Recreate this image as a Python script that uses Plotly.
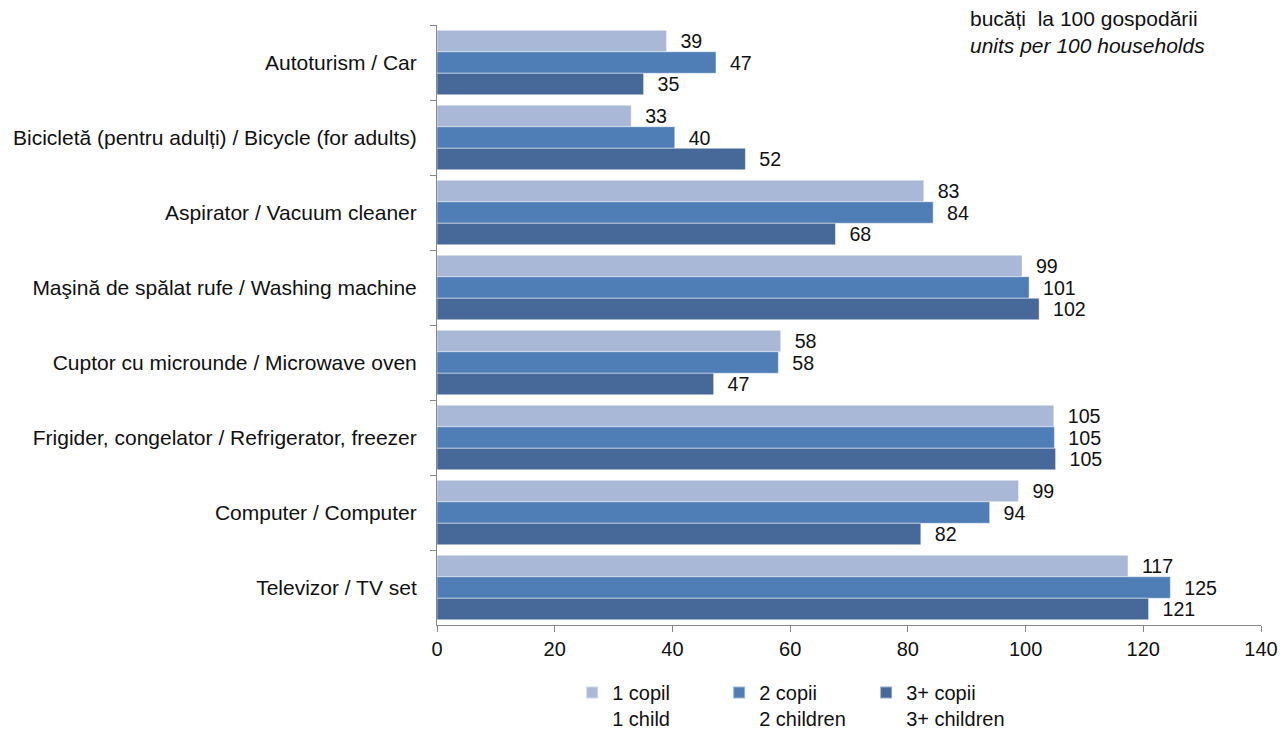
import plotly.graph_objects as go

categories = [
    "Autoturism / Car",
    "Bicicletă (pentru adulți) / Bicycle (for adults)",
    "Aspirator / Vacuum cleaner",
    "Maşină de spălat rufe / Washing machine",
    "Cuptor cu microunde / Microwave oven",
    "Frigider, congelator / Refrigerator, freezer",
    "Computer / Computer",
    "Televizor / TV set",
]
one_child = [39.0, 33.0, 82.7, 99.4, 58.4, 104.8, 98.8, 117.4]
two_children = [47.4, 40.4, 84.3, 100.6, 58.0, 104.9, 93.9, 124.6]
three_children = [35.1, 52.4, 67.7, 102.3, 47.0, 105.1, 82.2, 120.9]

series_names = ["1 copil<br>1 child", "2 copii<br>2 children", "3+ copii<br>3+ children"]
series_values = [one_child, two_children, three_children]
colors = ["#A9B8D6", "#4F7EB6", "#46699A"]

FONT = "Liberation Sans, Arial, sans-serif"

fig = go.Figure()
for name, vals, col in zip(series_names, series_values, colors):
    fig.add_trace(go.Bar(
        y=categories, x=vals, orientation="h", name=name,
        marker=dict(color=col, line=dict(color="rgba(255,255,255,0.45)", width=1)),
        texttemplate="  %{x:.0f}", textposition="outside",
        textfont=dict(family=FONT, size=21, color="#111111"),
        cliponaxis=False,
    ))

fig.update_layout(
    width=1280, height=721,
    margin=dict(l=429, r=27, t=17, b=104, autoexpand=False),
    paper_bgcolor="white", plot_bgcolor="white",
    barmode="group", bargap=0.14, bargroupgap=0.0,
    font=dict(family=FONT, size=20, color="#111111"),
    showlegend=True,
    legend=dict(
        orientation="h", x=0.164, xanchor="left", y=-0.08, yanchor="top",
        entrywidth=102, entrywidthmode="pixels", valign="top",
        font=dict(family=FONT, size=20, color="#111111"),
        itemsizing="constant", traceorder="normal", tracegroupgap=0,
    ),
    annotations=[dict(
        xref="paper", yref="paper", x=0.644, y=1.033, xanchor="left", yanchor="top",
        text="bucăți  la 100 gospodării<br><i>units per 100 households</i>",
        showarrow=False, align="left",
        font=dict(family=FONT, size=21, color="#111111"),
    )],
)
fig.update_xaxes(
    range=[0, 140], dtick=20, tick0=0, showgrid=False, zeroline=False,
    showline=True, linecolor="#888888", linewidth=1, automargin=False,
    ticks="outside", ticklen=6, tickcolor="#888888",
    tickfont=dict(family=FONT, size=20, color="#111111"),
)
fig.update_yaxes(
    autorange="reversed", showgrid=False, zeroline=False,
    showline=True, linecolor="#888888", linewidth=1, automargin=False,
    ticks="outside", ticklen=6, tickcolor="#888888", tickson="boundaries",
    tickfont=dict(family=FONT, size=21, color="#111111"),
    ticklabelstandoff=15,
)

fig.write_html("out.html")
